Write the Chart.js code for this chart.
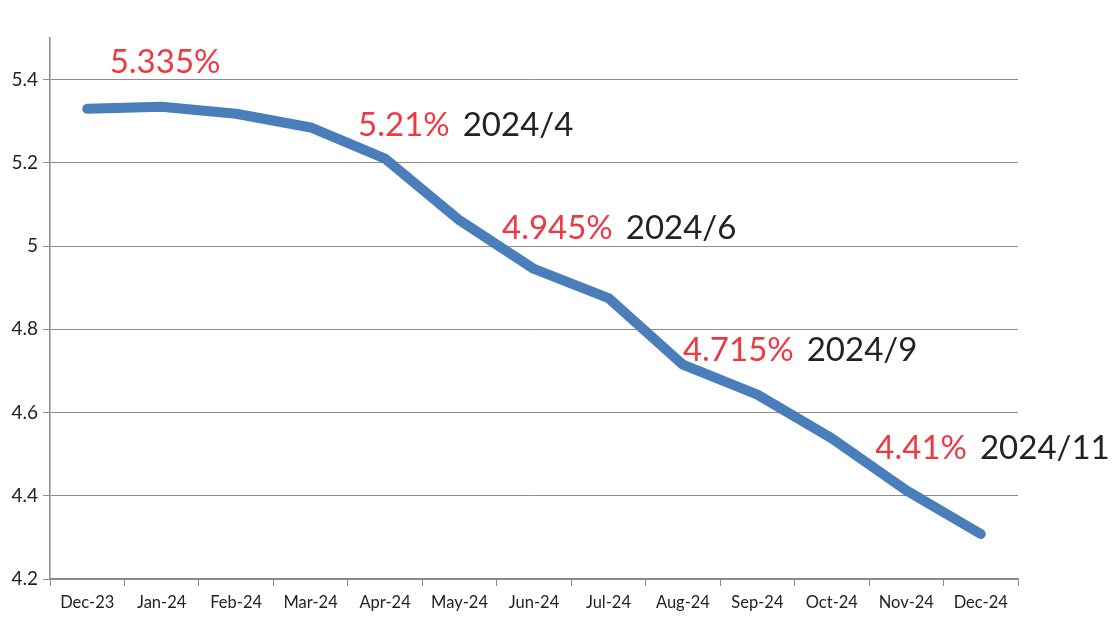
<!DOCTYPE html>
<html>
<head>
<meta charset="utf-8">
<script src="https://cdn.jsdelivr.net/npm/chart.js@4/dist/chart.umd.min.js"></script>
<style>
  html, body { margin: 0; padding: 0; background: #fff; }
  #wrap { width: 1118px; height: 629px; }
</style>
</head>
<body>
<div id="wrap"><canvas id="rateChart" width="1118" height="629"></canvas></div>
<script>
// data
const months = ["Dec-23", "Jan-24", "Feb-24", "Mar-24", "Apr-24", "May-24", "Jun-24",
                "Jul-24", "Aug-24", "Sep-24", "Oct-24", "Nov-24", "Dec-24"];
const rates = [5.33, 5.335, 5.318, 5.285, 5.21, 5.062, 4.945, 4.875, 4.715, 4.643, 4.538, 4.413, 4.308];
const yTicks = [4.2, 4.4, 4.6, 4.8, 5, 5.2, 5.4];

// callouts: which point, red value text, black date text
const noteIndex = [1, 4, 6, 8, 11];
const noteValue = ["5.335%", "5.21%", "4.945%", "4.715%", "4.41%"];
const noteDate = ["", "2024/4", "2024/6", "2024/9", "2024/11"];
const noteShift = [[-52, -34], [-27, -23], [-32, -30], [0, -4], [-31, -31]];

const FONT = "Lato, 'Open Sans', sans-serif";

// draws the red / black labels next to the points
const notesPlugin = {
    id: "notes",
    afterDatasetsDraw(chart) {
        const c = chart.ctx;
        const xs = chart.scales.x, ys = chart.scales.y;
        c.save();
        c.font = "33px " + FONT;
        c.textBaseline = "alphabetic";
        c.textAlign = "left";
        noteIndex.forEach((idx, i) => {
            const px = xs.getPixelForValue(idx) + noteShift[i][0];
            const py = ys.getPixelForValue(rates[idx]) + noteShift[i][1];
            c.fillStyle = "#ef3842";
            c.fillText(noteValue[i], px, py);
            if (noteDate[i]) {
                const w = c.measureText(noteValue[i]).width;
                c.fillStyle = "#222222";
                c.fillText(noteDate[i], px + w + 13, py);
            }
        });
        c.restore();
    }
};

new Chart(document.getElementById("rateChart"), {
    type: "line",
    data: {
        labels: months,
        datasets: [{
            data: rates,
            borderColor: "#4a7ebb",
            borderWidth: 10,
            borderCapStyle: "round",
            borderJoinStyle: "round",
            pointRadius: 0,
            tension: 0,
            fill: false
        }]
    },
    options: {
        responsive: false,
        animation: false,
        layout: { padding: { top: 38, right: 100, left: 0, bottom: 0 } },
        plugins: { legend: { display: false }, tooltip: { enabled: false } },
        scales: {
            x: {
                offset: true,
                grid: { drawOnChartArea: false, offset: true, tickLength: 7, color: "#8c8c8c", lineWidth: 1 },
                border: { color: "#8c8c8c", width: 1.5 },
                ticks: { color: "#222", font: { family: FONT, size: 16.5 }, maxRotation: 0, autoSkip: false, padding: 7 },
                afterFit(s) { s.height = 50; }
            },
            y: {
                min: 4.2,
                max: 5.5,
                afterBuildTicks(s) { s.ticks = yTicks.map(v => ({ value: v })); },
                grid: { color: "#8c8c8c", lineWidth: 1, tickLength: 7 },
                border: { color: "#8c8c8c", width: 1.5 },
                ticks: {
                    color: "#222",
                    font: { family: FONT, size: 19 },
                    padding: 5,
                    callback: v => String(v)
                },
                afterFit(s) { s.width = 50; }
            }
        }
    },
    plugins: [notesPlugin]
});
</script>
</body>
</html>
